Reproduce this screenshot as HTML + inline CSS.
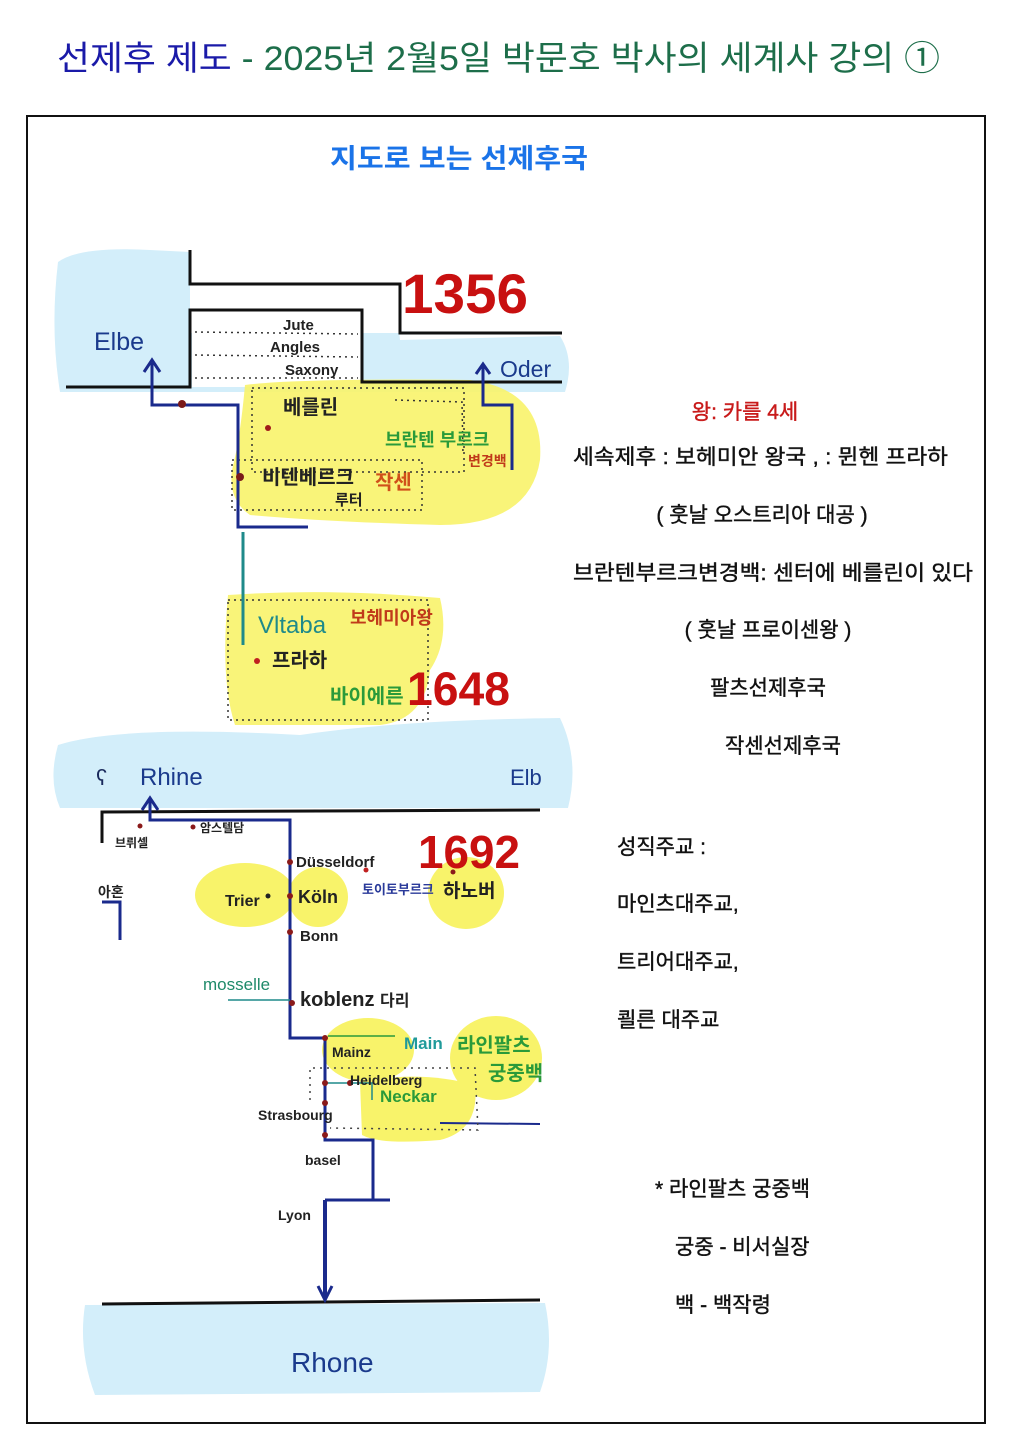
<!DOCTYPE html>
<html><head><meta charset="utf-8"><style>
html,body{margin:0;padding:0;background:#fff;width:1018px;height:1440px;overflow:hidden}
svg{display:block}
text{font-family:"Liberation Sans","Noto Sans CJK KR",sans-serif}
.h{font-family:"Liberation Sans","Noto Sans CJK KR",sans-serif;font-weight:bold}
</style></head><body>
<svg width="1018" height="1440" viewBox="0 0 1018 1440" xmlns="http://www.w3.org/2000/svg">
<text x="57" y="70" font-size="34" textLength="883" lengthAdjust="spacingAndGlyphs"><tspan fill="#1a1aa8">선제후 제도</tspan><tspan fill="#1d6e4a"> - 2025년 2월5일 박문호 박사의 세계사 강의 ①</tspan></text>
<rect x="27" y="116" width="958" height="1307" fill="none" stroke="#111" stroke-width="2"/>
<text x="459" y="168" font-size="27" font-weight="bold" fill="#1a73e8" text-anchor="middle" textLength="258" lengthAdjust="spacingAndGlyphs">지도로 보는  선제후국</text>

<!-- upper sea -->
<path d="M58 262 Q80 246 150 250 L190 252 L190 290 L395 290 L400 340 L560 336 Q575 360 565 392 L60 392 Q50 330 58 262Z" fill="#d3eefa"/>
<rect x="190" y="290" width="210" height="43" fill="#fff"/>
<rect x="192" y="311" width="169" height="76" fill="#fff"/>
<!-- yellow upper -->
<path d="M245 385 Q300 378 470 380 Q545 390 540 460 Q530 525 440 525 Q330 522 250 515 Q228 500 232 470 Q240 440 245 385Z" fill="#f8f36a" opacity="0.9"/>
<path d="M228 595 Q330 588 440 598 Q450 640 430 670 Q425 720 380 725 L235 725 Q220 680 228 595Z" fill="#f8f36a" opacity="0.9"/>
<path d="M190 250 L190 284 L400 284 L400 333 L562 333" fill="none" stroke="#111" stroke-width="3"/>
<path d="M66 387 L190 387 L190 310 L362 310 L362 382 L562 382" fill="none" stroke="#111" stroke-width="3"/>
<g stroke="#333" stroke-width="1.5" stroke-dasharray="2 4" fill="none">
<line x1="195" y1="332" x2="358" y2="334"/><line x1="195" y1="355" x2="358" y2="357"/><line x1="195" y1="378" x2="358" y2="378"/>
<rect x="252" y="388" width="212" height="84"/><rect x="232" y="460" width="190" height="50"/>
<rect x="228" y="600" width="200" height="120"/>
<path d="M395 400 L462 402 L463 455"/>
</g>
<text x="283" y="330" font-size="15" class="h" fill="#222">Jute</text>
<text x="270" y="352" font-size="15" class="h" fill="#222">Angles</text>
<text x="285" y="375" font-size="15" class="h" fill="#222">Saxony</text>
<text x="94" y="350" font-size="25" fill="#1a3a8c">Elbe</text>
<text x="500" y="377" font-size="23" fill="#1a3a8c">Oder</text>
<g stroke="#1a2a8c" stroke-width="3" fill="none">
<path d="M152 363 L152 405 L238 405 L238 527 L308 527"/>
<path d="M144 372 L152 360 L160 372"/>
<path d="M483 365 L483 405 L512 405 L512 470"/>
<path d="M476 374 L483 364 L490 374"/>
</g>
<path d="M243 532 L243 645" stroke="#1f8a8a" stroke-width="3"/>
<circle cx="182" cy="404" r="4" fill="#7a1a1a"/><circle cx="240" cy="477" r="4" fill="#7a1a1a"/>
<circle cx="268" cy="428" r="3" fill="#a01a1a"/><circle cx="257" cy="661" r="3" fill="#c02020"/>
<text x="283" y="414" font-size="20" class="h" fill="#222">베를린</text>
<text x="385" y="446" font-size="18" class="h" fill="#2a9a3a">브란텐 부르크</text>
<text x="468" y="466" font-size="14" class="h" fill="#c03a1a">변경백</text>
<text x="262" y="484" font-size="20" class="h" fill="#222">비텐베르크</text>
<text x="335" y="505" font-size="15" class="h" fill="#222">루터</text>
<text x="375" y="489" font-size="20" class="h" fill="#d0501a">작센</text>
<text x="258" y="633" font-size="24" fill="#1f8a8a">Vltaba</text>
<text x="350" y="624" font-size="18" class="h" fill="#c03a1a">보헤미아왕</text>
<text x="272" y="667" font-size="20" class="h" fill="#222">프라하</text>
<text x="330" y="703" font-size="20" class="h" fill="#2a9a3a">바이에른</text>
<text x="402" y="313" font-size="56" font-weight="bold" fill="#c81010" textLength="126" lengthAdjust="spacingAndGlyphs">1356</text>
<text x="407" y="705" font-size="47" font-weight="bold" fill="#c81010" textLength="103" lengthAdjust="spacingAndGlyphs">1648</text>

<!-- lower sea -->
<path d="M58 745 Q120 725 300 735 Q400 720 560 718 Q580 760 568 808 L60 808 Q48 780 58 745Z" fill="#d3eefa"/>
<path d="M85 1305 L545 1303 Q555 1350 540 1392 L95 1395 Q78 1350 85 1305Z" fill="#d3eefa"/>
<ellipse cx="245" cy="895" rx="50" ry="32" fill="#f8f36a"/>
<ellipse cx="318" cy="897" rx="30" ry="30" fill="#f8f36a"/>
<ellipse cx="466" cy="893" rx="38" ry="36" fill="#f8f36a"/>
<ellipse cx="368" cy="1050" rx="46" ry="32" fill="#f8f36a"/>
<ellipse cx="496" cy="1058" rx="46" ry="42" fill="#f8f36a"/>
<path d="M360 1082 Q420 1070 475 1085 Q480 1130 440 1140 Q380 1145 362 1135Z" fill="#f8f36a"/>
<path d="M102 843 L102 812 L540 810" fill="none" stroke="#111" stroke-width="3"/>
<path d="M102 1304 L540 1300" fill="none" stroke="#111" stroke-width="3"/>
<g stroke="#1a2a8c" stroke-width="3" fill="none">
<path d="M150 800 L150 820 L290 820 L290 1038 L325 1038 L325 1140 L373 1140 L373 1200"/>
<path d="M142 810 L150 798 L158 810"/>
<path d="M325 1200 L390 1200"/>
<path d="M325 1200 L325 1298" stroke-width="4"/>
<path d="M318 1286 L325 1300 L332 1286"/>
<path d="M102 902 L120 902 L120 940" stroke-width="3"/>
<path d="M440 1123 L540 1124" stroke-width="2"/>
</g>
<path d="M228 1000 L290 1000" stroke="#1f8a8a" stroke-width="1.5"/>
<path d="M328 1036 L395 1036" stroke="#2a9a3a" stroke-width="1.5"/>
<path d="M325 1083 L352 1083 L372 1083 L372 1100" stroke="#1f8a8a" stroke-width="1.5" fill="none"/>
<g stroke="#444" stroke-width="1.5" stroke-dasharray="2 5" fill="none">
<path d="M310 1100 L310 1068 L475 1068 L478 1130 L330 1128"/>
</g>
<g fill="#8a1a1a">
<circle cx="140" cy="826" r="2.5"/><circle cx="193" cy="827" r="2.5"/><circle cx="290" cy="862" r="3"/><circle cx="290" cy="896" r="3"/><circle cx="290" cy="932" r="3"/><circle cx="292" cy="1003" r="3"/><circle cx="325" cy="1038" r="3"/><circle cx="325" cy="1083" r="3"/><circle cx="350" cy="1083" r="3"/><circle cx="325" cy="1103" r="3"/><circle cx="325" cy="1135" r="3"/><circle cx="268" cy="896" r="2.5" fill="#222"/><circle cx="366" cy="870" r="2.5" fill="#c02020"/><circle cx="453" cy="872" r="2.5"/>
</g>
<text x="96" y="785" font-size="22" fill="#1a2a5c">ʕ</text>
<text x="140" y="785" font-size="24" fill="#1a3a8c">Rhine</text>
<text x="510" y="785" font-size="22" fill="#1a3a8c">Elb</text>
<text x="115" y="847" font-size="12" class="h" fill="#222">브뤼셀</text>
<text x="200" y="832" font-size="12" class="h" fill="#222">암스텔담</text>
<text x="98" y="897" font-size="14" class="h" fill="#222">아혼</text>
<text x="296" y="867" font-size="15" class="h" fill="#222">Düsseldorf</text>
<text x="225" y="906" font-size="16" class="h" fill="#222">Trier</text>
<text x="298" y="903" font-size="18" class="h" fill="#222">Köln</text>
<text x="300" y="941" font-size="15" class="h" fill="#222">Bonn</text>
<text x="362" y="894" font-size="13" class="h" fill="#2a3a9a">토이토부르크</text>
<text x="443" y="897" font-size="19" class="h" fill="#222">하노버</text>
<text x="203" y="990" font-size="17" fill="#1f8a6a">mosselle</text>
<text x="300" y="1006" font-size="20" class="h" fill="#222">koblenz <tspan font-size="16">다리</tspan></text>
<text x="404" y="1049" font-size="17" class="h" fill="#1f9a9a">Main</text>
<text x="457" y="1052" font-size="20" class="h" fill="#2a9a3a">라인팔츠</text>
<text x="488" y="1080" font-size="20" class="h" fill="#2a9a3a">궁중백</text>
<text x="332" y="1057" font-size="14" class="h" fill="#222">Mainz</text>
<text x="350" y="1085" font-size="14" class="h" fill="#222">Heidelberg</text>
<text x="380" y="1102" font-size="17" class="h" fill="#2a9a3a">Neckar</text>
<text x="258" y="1120" font-size="14" class="h" fill="#222">Strasbourg</text>
<text x="305" y="1165" font-size="14" class="h" fill="#222">basel</text>
<text x="278" y="1220" font-size="14" class="h" fill="#222">Lyon</text>
<text x="291" y="1372" font-size="28" fill="#1a3a8c">Rhone</text>
<text x="418" y="868" font-size="46" font-weight="bold" fill="#c81010" textLength="102" lengthAdjust="spacingAndGlyphs">1692</text>

<g font-size="21" fill="#111" stroke="#111" stroke-width="0.4">
<text x="745" y="419" text-anchor="middle" fill="#c81a1a" stroke="#c81a1a">왕: 카를 4세</text>
<text x="573" y="464" textLength="375" lengthAdjust="spacingAndGlyphs">세속제후 : 보헤미안 왕국 , : 뮌헨 프라하</text>
<text x="762" y="522" text-anchor="middle">( 훗날 오스트리아 대공 )</text>
<text x="573" y="580" textLength="400" lengthAdjust="spacingAndGlyphs">브란텐부르크변경백: 센터에 베를린이 있다</text>
<text x="768" y="637" text-anchor="middle">( 훗날 프로이센왕 )</text>
<text x="768" y="695" text-anchor="middle">팔츠선제후국</text>
<text x="783" y="753" text-anchor="middle">작센선제후국</text>
<text x="617" y="854">성직주교 :</text>
<text x="617" y="911">마인츠대주교,</text>
<text x="617" y="969">트리어대주교,</text>
<text x="617" y="1027">쾰른 대주교</text>
<text x="655" y="1196">* 라인팔츠 궁중백</text>
<text x="675" y="1254">궁중 - 비서실장</text>
<text x="675" y="1312">백 - 백작령</text>
</g>
</svg>
</body></html>
